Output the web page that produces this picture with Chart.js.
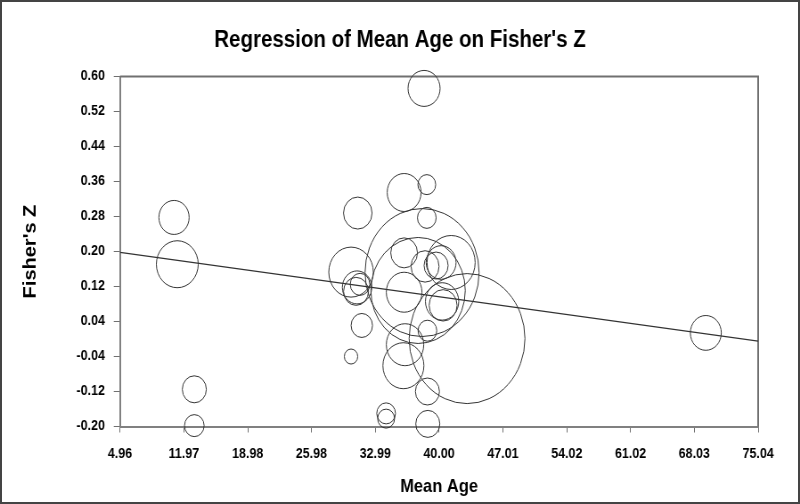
<!DOCTYPE html>
<html lang="en">
<head>
<meta charset="UTF-8">
<title>Regression of Mean Age on Fisher's Z</title>
<script src="https://cdn.jsdelivr.net/npm/chart.js"></script>
<style>
    body { margin: 0; background: #fff; }
    #wrap { position: relative; width: 800px; height: 504px; overflow: hidden; }
    /* the reference is a little squeezed sideways, so draw wider and scale back */
    #stretch { width: 898px; height: 504px; transform: scaleX(0.8909); transform-origin: 0 0; }
    #frame { position: absolute; left: 0; top: 0; width: 800px; height: 504px; box-sizing: border-box; border: 2px solid #444; pointer-events: none; }
</style>
</head>
<body>
<div id="wrap">
    <div id="stretch"><canvas id="myChart" width="898" height="504"></canvas></div>
    <div id="frame"></div>
</div>
<script>
const meanAge = [38.35, 38.65, 36.16, 31.07, 38.65, 10.89, 11.25, 13.12, 13.12, 43.07,
                 38.13, 37.69, 30.33, 30.99, 31.32, 30.88, 31.51, 30.33, 34.18, 34.18,
                 38.76, 38.72, 36.08, 36.26, 38.72, 36.16, 36.16, 40.33, 40.44, 38.46,
                 39.67, 40.22, 41.32, 69.29];
const fisherZ = [0.573, 0.353, 0.335, 0.288, 0.277, 0.278, 0.171, -0.115, -0.198, 0.001,
                 0.152, 0.111, 0.153, 0.118, 0.125, 0.109, 0.031, -0.040, -0.170, -0.182,
                 -0.194, -0.120, -0.061, -0.013, 0.019, 0.197, 0.107, 0.086, 0.077, 0.166,
                 0.168, 0.175, 0.175, 0.014];
const weights = [18, 10, 19, 16, 10.5, 17, 23.5, 13.5, 11, 65,
                 64, 53, 25, 16.5, 11, 14, 12, 7.5, 10.5, 9.5,
                 13.5, 13.5, 23, 21, 10.5, 15, 20, 18.7, 15.7, 15.7,
                 13.5, 16.8, 27, 17.4];

// regression line end points
const lineAge = [4.96, 75.04];
const lineZ = [0.198, -0.005];

const xTicks = [4.96, 11.97, 18.98, 25.98, 32.99, 40.00, 47.01, 54.02, 61.02, 68.03, 75.04];
const yTicks = [-0.20, -0.12, -0.04, 0.04, 0.12, 0.20, 0.28, 0.36, 0.44, 0.52, 0.60];

Chart.defaults.font.family = "'Liberation Sans', Arial, sans-serif";
Chart.defaults.color = '#000';

const boxLines = {
    id: 'boxLines',
    beforeDatasetsDraw(chart) {
        const { ctx, chartArea: a } = chart;
        ctx.save();
        ctx.strokeStyle = '#707070';
        ctx.lineWidth = 2;
        ctx.beginPath();
        ctx.moveTo(a.left, a.top);
        ctx.lineTo(a.right, a.top);
        ctx.lineTo(a.right, a.bottom);
        ctx.stroke();
        ctx.restore();
    }
};

const ctx = document.getElementById('myChart').getContext('2d');
const myChart = new Chart(ctx, {
    data: {
        datasets: [{
            type: 'bubble',
            data: meanAge.map((x, i) => ({ x: x, y: fisherZ[i], r: weights[i] })),
            backgroundColor: 'rgba(0,0,0,0)',
            borderColor: '#333',
            borderWidth: 1,
            clip: false
        }, {
            type: 'line',
            data: lineAge.map((x, i) => ({ x: x, y: lineZ[i] })),
            borderColor: '#333',
            borderWidth: 1.2,
            pointRadius: 0,
            fill: false
        }]
    },
    options: {
        responsive: false,
        animation: false,
        devicePixelRatio: 1,
        layout: { padding: 0, autoPadding: false },
        plugins: {
            legend: { display: false },
            tooltip: { enabled: false },
            title: {
                display: true,
                text: "Regression of Mean Age on Fisher's Z",
                font: { size: 23, weight: 'bold' },
                padding: { top: 26.5, bottom: 22.5 }
            }
        },
        scales: {
            x: {
                type: 'linear',
                min: 4.96,
                max: 75.04,
                afterBuildTicks: s => { s.ticks = xTicks.map(v => ({ value: v })); },
                afterFit: s => { s.height = 77.5; },
                ticks: {
                    callback: v => v.toFixed(2),
                    font: { size: 14, weight: 'bold' },
                    padding: 13.5,
                    maxRotation: 0
                },
                grid: { drawOnChartArea: false, tickLength: 6, tickColor: '#707070' },
                border: { color: '#808080', width: 2 },
                title: {
                    display: true,
                    text: 'Mean Age',
                    font: { size: 18.5, weight: 'bold' },
                    padding: { top: 0, bottom: 6 }
                }
            },
            y: {
                type: 'linear',
                min: -0.2,
                max: 0.6,
                afterBuildTicks: s => { s.ticks = yTicks.map(v => ({ value: v })); },
                afterFit: s => { s.width = 134.7; },
                ticks: {
                    callback: v => v.toFixed(2),
                    font: { size: 14, weight: 'bold' },
                    padding: 10
                },
                grid: { drawOnChartArea: false, tickLength: 7, tickColor: '#707070' },
                border: { color: '#808080', width: 2 },
                title: {
                    display: true,
                    text: "Fisher's Z",
                    font: { size: 20, weight: 'bold' },
                    padding: { top: 22, bottom: 0 }
                }
            },
            // empty right-hand strip, keeps the plot box off the right edge
            yRight: {
                type: 'linear',
                position: 'right',
                min: -0.2,
                max: 0.6,
                afterFit: s => { s.width = 47; },
                ticks: { display: false },
                grid: { display: false },
                border: { display: false }
            }
        }
    },
    plugins: [boxLines]
});
</script>
</body>
</html>
